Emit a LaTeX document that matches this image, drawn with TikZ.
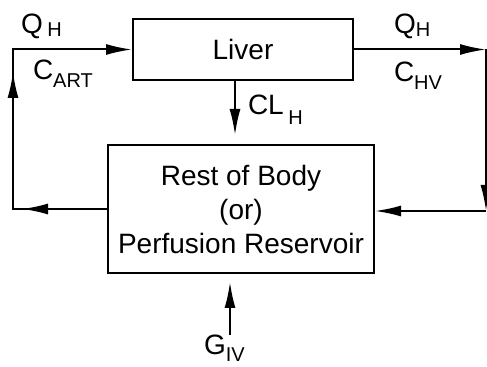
\documentclass[tikz,border=0pt]{standalone}
\usepackage{fontspec}
\setmainfont{Liberation Sans}
\usetikzlibrary{positioning,arrows.meta,calc,decorations.markings}
\newcommand{\lowsub}[2][4pt]{\raisebox{-#1}{\fontsize{10}{10}\selectfont #2}}

\begin{document}
\begin{tikzpicture}[x=0.5pt, y=-0.5pt, >={Latex[length=13pt,width=5.5pt]}, line width=1pt,
    font=\fontsize{14}{17}\selectfont]
    \tikzset{organ/.style={draw, line width=1pt, align=center, inner sep=0pt},
             flowlbl/.style={font=\fontsize{14}{14}\selectfont, inner sep=0pt, anchor=base west},
             midarrows/.style={postaction={decorate}, decoration={markings,
               mark=at position 42.5pt with {\arrow{>}},
               mark=at position 115.5pt with {\arrow{>}}}}}
    \useasboundingbox (0,0) rectangle (487,367);
    % the two compartments
    \node[organ, minimum width=110pt, minimum height=30.5pt] (liver) at (243,49.5) {Liver};
    \node[organ, minimum width=133pt, minimum height=64pt] (rest) at (241,209)
      {Rest of Body\\(or)\\Perfusion Reservoir};
    % corners of the loop
    \coordinate (bl) at (13,209);
    \coordinate (tl) at (13,49.5);
    \coordinate (tr) at (486,49.5);
    \coordinate (br) at (486,211);
    \coordinate (clend) at (235,135);
    \coordinate (gstart) at (230,335);
    \coordinate (gtip) at (230,282);
    % arterial side
    \draw[->, midarrows] (rest.west) -- (bl) -- (tl) -- (liver.west);
    % hepatic vein side
    \draw[->] (liver.east) -- (tr);
    \draw[->] (tr) -- (br);
    \draw[->] (br) -- (br -| rest.east);
    % clearance and input
    \draw[->] (clend |- liver.south) -- (clend);
    \draw[->] (gstart) -- (gtip);
    % labels
    \node[flowlbl] (qart) at (20,34) {Q\,\lowsub[1.5pt]{H}};
    \node[flowlbl] (cart) at (32,80) {C\lowsub{ART}};
    \node[flowlbl] (qhv) at (393,34) {Q\lowsub[1.5pt]{H}};
    \node[flowlbl] (chv) at (393,82) {C\lowsub{HV}};
    \node[flowlbl] (cl) at (247,115) {CL\,\lowsub[5pt]{H}};
    \node[flowlbl] (giv) at (203,355) {G\lowsub[3.5pt]{IV}};
\end{tikzpicture}
\end{document}
